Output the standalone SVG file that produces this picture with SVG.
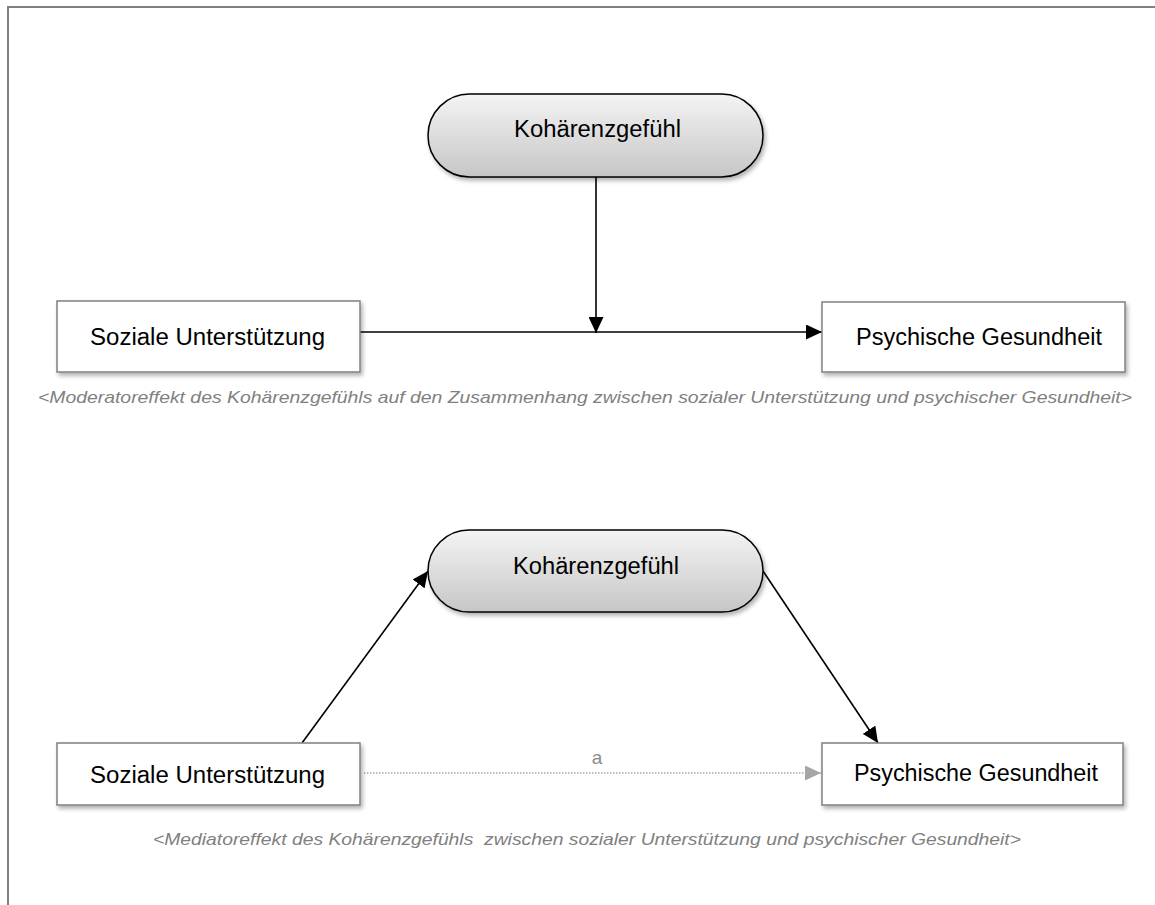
<svg xmlns="http://www.w3.org/2000/svg" width="1155" height="905" viewBox="0 0 1155 905">
<style>
.box{fill:#fff;stroke:#808080;stroke-width:1.5;filter:url(#sh)}
.pill{fill:url(#g);stroke:#000;stroke-width:1.5;filter:url(#sh)}
.lbl{font-family:"Liberation Sans",Arial,sans-serif;font-size:23px;fill:#000}
.cap{font-family:"Liberation Sans",Arial,sans-serif;font-size:17px;font-style:italic;fill:#808080;white-space:pre}
.ln{stroke:#000;stroke-width:1.6;fill:none}
.dot{stroke:#a6a6a6;stroke-width:1.5;stroke-dasharray:1.5 1.5;fill:none}
</style>
<defs>
<linearGradient id="g" x1="0" y1="0" x2="0" y2="1">
<stop offset="0" stop-color="#f4f4f4"/>
<stop offset="1" stop-color="#c6c6c6"/>
</linearGradient>
<filter id="sh" x="-10%" y="-10%" width="130%" height="150%">
<feDropShadow dx="2" dy="3" stdDeviation="2" flood-color="#000" flood-opacity="0.3"/>
</filter>
<marker id="ab" markerUnits="userSpaceOnUse" markerWidth="17" markerHeight="15" refX="16" refY="7.5" orient="auto">
<path d="M0,0 L16,7.5 L0,15 z" fill="#000"/>
</marker>
<marker id="ag" markerUnits="userSpaceOnUse" markerWidth="17" markerHeight="15" refX="16" refY="7.5" orient="auto">
<path d="M0,0 L16,7.5 L0,15 z" fill="#a6a6a6"/>
</marker>
</defs>
<rect width="1155" height="905" fill="#fff"/>
<g id="frame" stroke="#808080" stroke-width="2" fill="none">
<line x1="7" y1="7" x2="1155" y2="7"/>
<line x1="8" y1="7" x2="8" y2="905"/>
</g>
<g id="connectors">
<line class="ln" x1="596" y1="177" x2="596" y2="333" marker-end="url(#ab)"/>
<line class="ln" x1="360" y1="332" x2="822" y2="332" marker-end="url(#ab)"/>
<line class="ln" x1="302" y1="743" x2="428" y2="571" marker-end="url(#ab)"/>
<line class="ln" x1="763" y1="571" x2="878" y2="743" marker-end="url(#ab)"/>
<line class="dot" x1="364" y1="773" x2="821" y2="773" marker-end="url(#ag)"/>
<text x="597" y="764" text-anchor="middle" font-family="Liberation Sans, Arial, sans-serif" font-size="19" fill="#8c8c8c">a</text>
</g>
<g id="n1">
<rect class="pill" x="428" y="94" width="335" height="83" rx="41.5"/>
<text class="lbl" x="514" y="137" textLength="167" lengthAdjust="spacingAndGlyphs">Kohärenzgefühl</text>
</g>
<g id="n2">
<rect class="box" x="57" y="301" width="303" height="71"/>
<text class="lbl" x="90" y="345" textLength="235" lengthAdjust="spacingAndGlyphs">Soziale Unterstützung</text>
</g>
<g id="n3">
<rect class="box" x="822" y="302" width="303" height="70"/>
<text class="lbl" x="856" y="345" textLength="246" lengthAdjust="spacingAndGlyphs">Psychische Gesundheit</text>
</g>
<text class="cap" x="38" y="403" textLength="1094" lengthAdjust="spacingAndGlyphs">&lt;Moderatoreffekt des Kohärenzgefühls auf den Zusammenhang zwischen sozialer Unterstützung und psychischer Gesundheit&gt;</text>
<g id="n4">
<rect class="pill" x="428" y="530" width="335" height="82" rx="41"/>
<text class="lbl" x="513" y="574" textLength="166" lengthAdjust="spacingAndGlyphs">Kohärenzgefühl</text>
</g>
<g id="n5">
<rect class="box" x="57" y="743" width="303" height="62"/>
<text class="lbl" x="90" y="783" textLength="235" lengthAdjust="spacingAndGlyphs">Soziale Unterstützung</text>
</g>
<g id="n6">
<rect class="box" x="822" y="743" width="301" height="62"/>
<text class="lbl" x="854" y="781" textLength="244" lengthAdjust="spacingAndGlyphs">Psychische Gesundheit</text>
</g>
<text class="cap" x="153" y="845" textLength="868" lengthAdjust="spacingAndGlyphs">&lt;Mediatoreffekt des Kohärenzgefühls  zwischen sozialer Unterstützung und psychischer Gesundheit&gt;</text>
</svg>
